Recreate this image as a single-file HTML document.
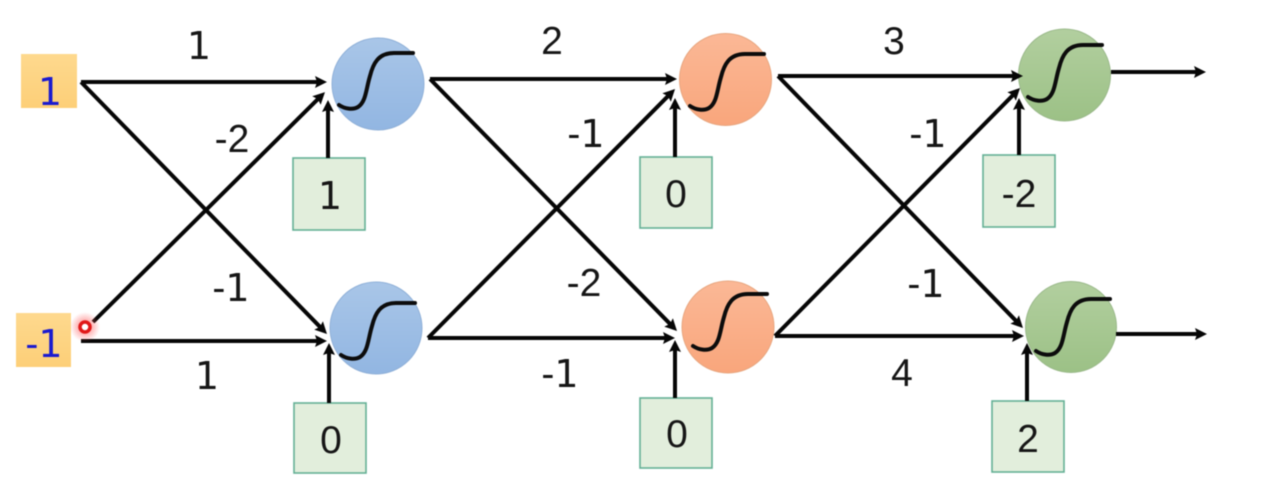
<!DOCTYPE html>
<html>
<head>
<meta charset="utf-8">
<style>
html,body{margin:0;padding:0;background:#fff;width:1261px;height:491px;overflow:hidden}
svg{display:block;filter:blur(.45px)}
text{font-family:"Liberation Sans",sans-serif;font-size:39px;fill:#161616;text-anchor:middle}
.d{font-family:"DejaVu Sans",sans-serif;font-size:38px}
.in,.in tspan{fill:#1a1ad0}
.l{stroke:#060606;stroke-width:4;fill:none;marker-end:url(#a)}
.g{fill:#e2eedc;stroke:#64b095;stroke-width:1.6}
.o{fill:url(#og)}
.s{stroke:#0c0c0c;stroke-width:4;fill:none;stroke-linecap:round}
</style>
</head>
<body>
<svg width="1261" height="491" viewBox="0 0 1261 491" xmlns="http://www.w3.org/2000/svg">
<defs>
<marker id="a" viewBox="0 0 12 12" refX="4" refY="6" markerWidth="12" markerHeight="12" markerUnits="userSpaceOnUse" orient="auto"><path d="M0 0L12 6L0 12L2 6Z" fill="#060606"/></marker>
<linearGradient id="og" x1="0" y1="0" x2="0" y2="1"><stop offset="0" stop-color="#fed98e"/><stop offset="1" stop-color="#fdcf78"/></linearGradient>
<linearGradient id="bl" x1="0" y1="0" x2="0" y2="1"><stop offset="0" stop-color="#a9c6e8"/><stop offset="1" stop-color="#92b6e2"/></linearGradient>
<linearGradient id="or" x1="0" y1="0" x2="0" y2="1"><stop offset="0" stop-color="#fbb896"/><stop offset="1" stop-color="#f9a67c"/></linearGradient>
<linearGradient id="gr" x1="0" y1="0" x2="0" y2="1"><stop offset="0" stop-color="#b2cf9f"/><stop offset="1" stop-color="#9cc186"/></linearGradient>
<radialGradient id="red"><stop offset="0" stop-color="#ff5a5a" stop-opacity=".8"/><stop offset="1" stop-color="#ff5a5a" stop-opacity="0"/></radialGradient>
<path id="sig" d="M-39 21C-33 25-25 26-20 23C-12 18-12 5-8-8C-5-20 0-31 16-31L35-31"/>
</defs>

<rect x="21" y="54" width="56" height="54" class="o"/>
<rect x="16" y="313" width="55" height="54" class="o"/>

<rect x="293" y="158" width="72" height="72" class="g"/>
<rect x="294" y="403" width="72" height="70" class="g"/>
<rect x="640" y="157" width="72" height="71" class="g"/>
<rect x="640" y="398" width="72" height="70" class="g"/>
<rect x="983" y="155" width="72" height="72" class="g"/>
<rect x="992" y="401" width="72" height="71" class="g"/>

<circle cx="378" cy="84" r="46" fill="url(#bl)" stroke="#8fb0d8"/>
<circle cx="376" cy="328" r="46" fill="url(#bl)" stroke="#8fb0d8"/>
<circle cx="725.5" cy="79.5" r="46" fill="url(#or)" stroke="#e8a67f"/>
<circle cx="728" cy="327" r="46" fill="url(#or)" stroke="#e8a67f"/>
<circle cx="1064.5" cy="75" r="46" fill="url(#gr)" stroke="#9ab98a"/>
<circle cx="1071" cy="327" r="45.5" fill="url(#gr)" stroke="#9ab98a"/>

<g class="s">
<use href="#sig" x="378" y="84"/>
<use href="#sig" x="380" y="334"/>
<use href="#sig" x="729" y="85"/>
<use href="#sig" x="732" y="325"/>
<use href="#sig" x="1067" y="76"/>
<use href="#sig" x="1075" y="330"/>
</g>

<path class="l" d="M81 82H319"/>
<path class="l" d="M81 82L321.4 328.3"/>
<path class="l" d="M93 322L319.3 97.7"/>
<path class="l" d="M81 341H319"/>
<path class="l" d="M328 158V108"/>
<path class="l" d="M329 403V351"/>

<path class="l" d="M430 79H669"/>
<path class="l" d="M430 79L671.4 325.3"/>
<path class="l" d="M428 338L669.4 94.7"/>
<path class="l" d="M428 338H667"/>
<path class="l" d="M675 157V106"/>
<path class="l" d="M675 398V348"/>

<path class="l" d="M778 76H1015"/>
<path class="l" d="M778 76L1017.4 322.3"/>
<path class="l" d="M775 336L1014.4 93.7"/>
<path class="l" d="M775 336H1016"/>
<path class="l" d="M1019 155V106"/>
<path class="l" d="M1027 401V351"/>

<path class="l" d="M1111 72H1198"/>
<path class="l" d="M1116 334H1199"/>

<circle cx="85" cy="327" r="15" fill="url(#red)"/>
<circle cx="85" cy="327" r="5" fill="#fff" stroke="#e01818" stroke-width="3.5"/>

<text class="in" x="50" y="105"><tspan class="d">1</tspan></text>
<text class="in" x="44" y="357">-<tspan class="d">1</tspan></text>

<text x="330" y="209"><tspan class="d">1</tspan></text>
<text x="331" y="453">0</text>
<text x="676" y="207">0</text>
<text x="677" y="447">0</text>
<text x="1019" y="207">-2</text>
<text x="1028" y="452">2</text>

<text x="199" y="59"><tspan class="d">1</tspan></text>
<text x="232" y="152">-2</text>
<text x="231" y="301">-<tspan class="d">1</tspan></text>
<text x="207" y="389"><tspan class="d">1</tspan></text>

<text x="552" y="54">2</text>
<text x="586" y="147">-<tspan class="d">1</tspan></text>
<text x="584" y="296">-2</text>
<text x="560" y="387">-<tspan class="d">1</tspan></text>

<text x="894" y="54">3</text>
<text x="928" y="147">-<tspan class="d">1</tspan></text>
<text x="926" y="297">-<tspan class="d">1</tspan></text>
<text x="902" y="386">4</text>
</svg>
</body>
</html>
